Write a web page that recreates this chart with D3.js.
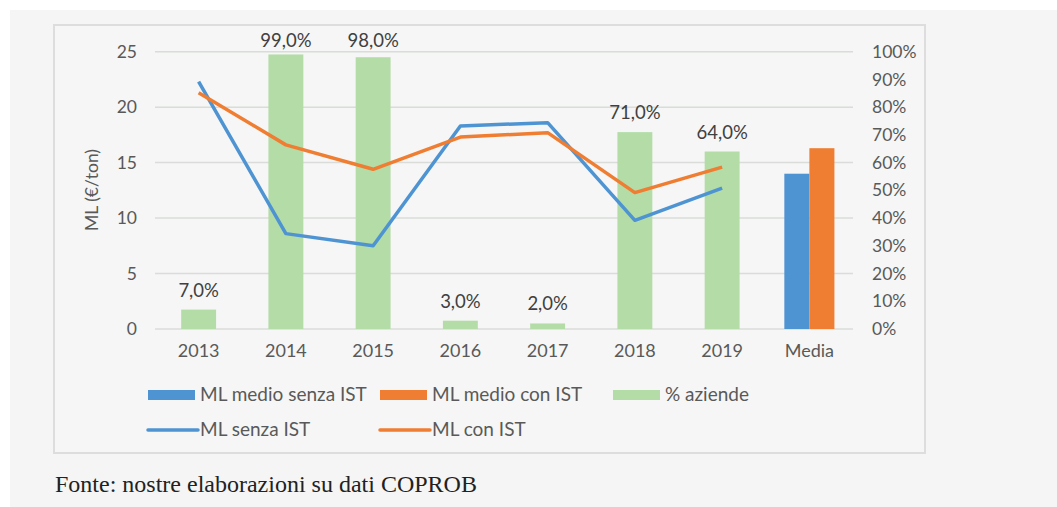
<!DOCTYPE html>
<html lang="it">
<head>
<meta charset="UTF-8">
<title>ML con e senza IST</title>
<script src="https://cdnjs.cloudflare.com/ajax/libs/d3/7.8.5/d3.min.js"></script>
<style>
    body{margin:0; background:#fff;}
    svg{display:block;}
    text{font-family: Lato, "Open Sans", sans-serif;}
</style>
</head>
<body>
<svg id="chart" width="1057" height="507"></svg>
<script>
// dati
var anni = ["2013","2014","2015","2016","2017","2018","2019"];
var categorie = ["2013","2014","2015","2016","2017","2018","2019","Media"];
var pctAziende = [0.07, 0.99, 0.98, 0.03, 0.02, 0.71, 0.64];
var mlSenzaIst = [22.3, 8.6, 7.5, 18.3, 18.6, 9.8, 12.7];
var mlConIst   = [21.3, 16.6, 14.4, 17.3, 17.7, 12.3, 14.6];
var mediaSenzaIst = 14.0;
var mediaConIst = 16.3;
var yTicks = [0, 5, 10, 15, 20, 25];
var pctTicks = [0, 0.1, 0.2, 0.3, 0.4, 0.5, 0.6, 0.7, 0.8, 0.9, 1.0];

var blu = "#4f94d2", arancio = "#ef7d32", verde = "#b3dca7";
var grigioTesto = "#595959";
var fs = "17.5px";

var svg = d3.select("#chart");

// sfondo
svg.append("rect").attr("x",10).attr("y",10).attr("width",1047).attr("height",497).attr("fill","#f4f5f4");
svg.append("rect").attr("x",54).attr("y",25).attr("width",871).attr("height",428)
   .attr("fill","#f5f6f5").attr("stroke","#dcdddc").attr("stroke-width",2);

var left = 155, right = 853, topY = 51.7, bottom = 329;

var x = d3.scaleBand().domain(categorie).range([left, right]).padding(0);
var y = d3.scaleLinear().domain([0,25]).range([bottom, topY]);
var yPct = d3.scaleLinear().domain([0,1]).range([bottom, topY]);

// griglia
svg.append("g").selectAll("line").data(yTicks).enter().append("line")
   .attr("x1",left).attr("x2",right)
   .attr("y1",function(d){return y(d);}).attr("y2",function(d){return y(d);})
   .attr("stroke","#dadcda").attr("stroke-width",1.5);

// assi
var asseY = d3.axisLeft(y).tickValues(yTicks).tickSize(0).tickPadding(18);
var gY = svg.append("g").attr("transform","translate("+left+",0)").call(asseY);
gY.select(".domain").remove();
gY.selectAll("text").attr("fill",grigioTesto).style("font-size",fs).style("font-family","Lato");

var asseDx = d3.axisRight(yPct).tickValues(pctTicks).tickSize(0).tickPadding(19)
               .tickFormat(function(d){return Math.round(d*100)+"%";});
var gDx = svg.append("g").attr("transform","translate("+right+",0)").call(asseDx);
gDx.select(".domain").remove();
gDx.selectAll("text").attr("fill",grigioTesto).style("font-size",fs).style("font-family","Lato");

var asseX = d3.axisBottom(x).tickSize(0).tickPadding(15);
var gX = svg.append("g").attr("transform","translate(0,"+bottom+")").call(asseX);
gX.select(".domain").remove();
gX.selectAll("text").attr("fill",grigioTesto).style("font-size","18px").style("font-family","Lato");

svg.append("text").attr("transform","translate(98,190) rotate(-90)")
   .attr("text-anchor","middle").attr("fill",grigioTesto).style("font-size",fs)
   .text("ML (€/ton)");

// barre % aziende
var bw = x.bandwidth()*0.4;
svg.append("g").selectAll("rect").data(pctAziende).enter().append("rect")
   .attr("x",function(d,i){return x(anni[i]) + (x.bandwidth()-bw)/2;})
   .attr("y",function(d){return yPct(d);})
   .attr("width",bw)
   .attr("height",function(d){return bottom - yPct(d);})
   .attr("fill",verde);

svg.append("g").selectAll("text").data(pctAziende).enter().append("text")
   .attr("x",function(d,i){return x(anni[i]) + x.bandwidth()/2;})
   .attr("y",function(d){return Math.max(47, yPct(d)-13);})
   .attr("text-anchor","middle").attr("fill","#404040").style("font-size","18.5px")
   .text(function(d){return (d*100).toFixed(1).replace(".",",")+"%";});

// barre media
var mw = x.bandwidth()*0.287;
var cx = x("Media") + x.bandwidth()/2;
svg.append("rect").attr("x",cx-mw).attr("y",y(mediaSenzaIst)).attr("width",mw)
   .attr("height",bottom-y(mediaSenzaIst)).attr("fill",blu);
svg.append("rect").attr("x",cx).attr("y",y(mediaConIst)).attr("width",mw)
   .attr("height",bottom-y(mediaConIst)).attr("fill",arancio);

// linee
var linea = d3.line()
    .x(function(d,i){return x(anni[i]) + x.bandwidth()/2;})
    .y(function(d){return y(d);});
svg.append("path").datum(mlSenzaIst).attr("d",linea).attr("fill","none")
   .attr("stroke",blu).attr("stroke-width",3.5).attr("stroke-linejoin","round");
svg.append("path").datum(mlConIst).attr("d",linea).attr("fill","none")
   .attr("stroke",arancio).attr("stroke-width",3.5).attr("stroke-linejoin","round");

// legenda
var leg = svg.append("g");
var voci = [
    {t:"ML medio senza IST", c:blu, tipo:"rect", x:148, y:395},
    {t:"ML medio con IST", c:arancio, tipo:"rect", x:380, y:395},
    {t:"% aziende", c:verde, tipo:"rect", x:613, y:395},
    {t:"ML senza IST", c:blu, tipo:"line", x:148, y:430},
    {t:"ML con IST", c:arancio, tipo:"line", x:380, y:430}
];
voci.forEach(function(v){
    if(v.tipo=="rect"){
        leg.append("rect").attr("x",v.x).attr("y",v.y-5).attr("width",47).attr("height",10).attr("fill",v.c);
    } else {
        leg.append("line").attr("x1",v.x).attr("x2",v.x+50).attr("y1",v.y).attr("y2",v.y)
           .attr("stroke",v.c).attr("stroke-width",3.5).attr("stroke-linecap","round");
    }
    leg.append("text").attr("x",v.x+52).attr("y",v.y+6).attr("fill",grigioTesto)
       .style("font-size","19px").text(v.t);
});

// fonte
svg.append("text").attr("x",55).attr("y",492)
   .style("font-family","'Liberation Serif', 'Times New Roman', serif").style("font-size","24px")
   .attr("fill","#222").text("Fonte: nostre elaborazioni su dati COPROB");
</script>
</body>
</html>
